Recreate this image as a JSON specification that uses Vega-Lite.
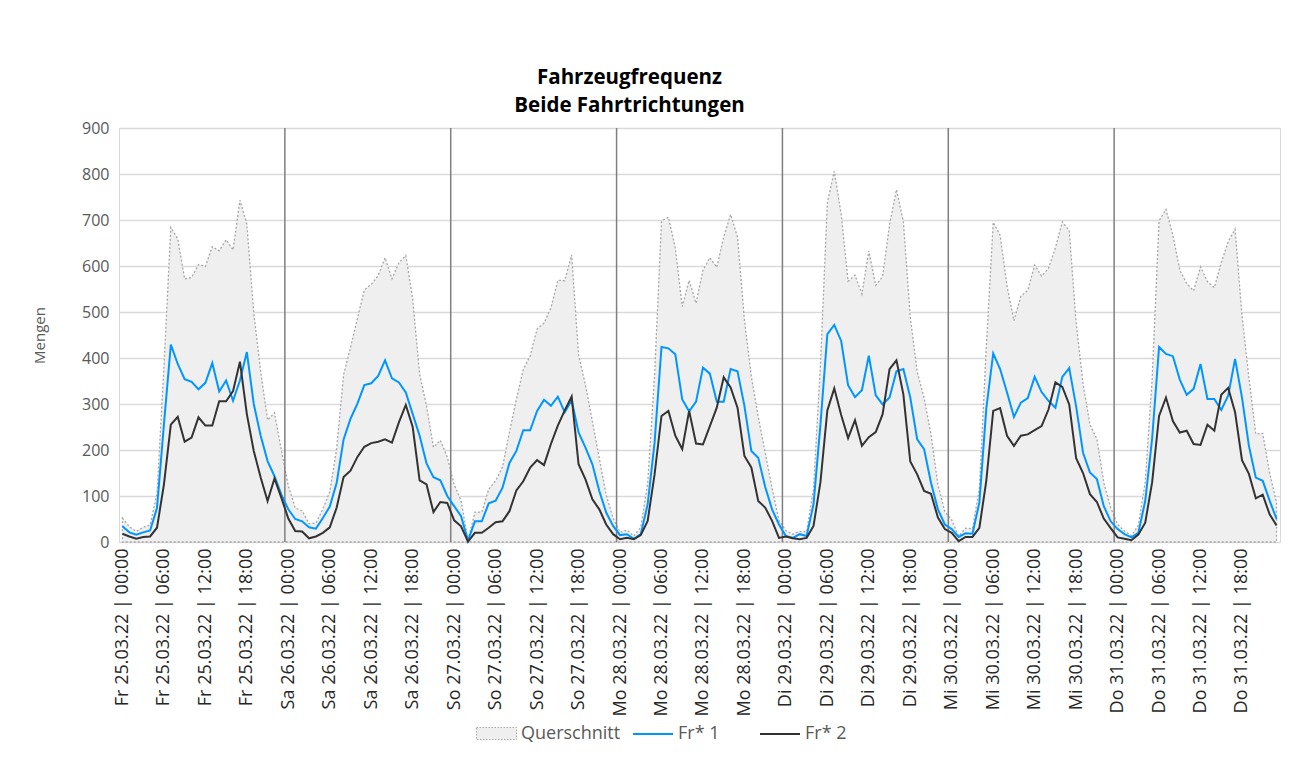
{
 "$schema": "https://vega.github.io/schema/vega-lite/v6.json",
 "width": 1161, "height": 414,
 "autosize": {"type": "none"},
 "padding": {"left": 119, "top": 128, "right": 19, "bottom": 221},
 "background": "white",
 "title": {"text": ["Fahrzeugfrequenz", "Beide Fahrtrichtungen"], "font": "Open Sans", "fontSize": 20.5, "fontWeight": "bold", "color": "#000000", "lineHeight": 28, "anchor": "middle", "dx": -70, "offset": 4},
 "config": {"view": {"stroke": "#D9D9D9"}, "font": "Open Sans",
   "legend": {"title": null, "orient": "none", "direction": "horizontal",
              "symbolSize": 1600, "labelFontSize": 18, "labelColor": "#595959", "labelOffset": 4, "columnPadding": 14}},
 "data": {"values": [
{"h":0,"q":52,"fr1":34,"fr2":18},{"h":1,"q":33,"fr1":21,"fr2":12},{"h":2,"q":23,"fr1":16,"fr2":7},{"h":3,"q":32,"fr1":21,"fr2":11},{"h":4,"q":37,"fr1":25,"fr2":12},{"h":5,"q":105,"fr1":74,"fr2":31},{"h":6,"q":380,"fr1":255,"fr2":125},{"h":7,"q":684,"fr1":429,"fr2":255},{"h":8,"q":659,"fr1":387,"fr2":272},{"h":9,"q":572,"fr1":354,"fr2":218},{"h":10,"q":575,"fr1":348,"fr2":227},{"h":11,"q":603,"fr1":332,"fr2":271},{"h":12,"q":599,"fr1":346,"fr2":253},{"h":13,"q":642,"fr1":389,"fr2":253},{"h":14,"q":633,"fr1":327,"fr2":306},{"h":15,"q":657,"fr1":351,"fr2":306},{"h":16,"q":635,"fr1":307,"fr2":328},{"h":17,"q":743,"fr1":351,"fr2":392},{"h":18,"q":691,"fr1":413,"fr2":278},{"h":19,"q":498,"fr1":300,"fr2":198},{"h":20,"q":371,"fr1":231,"fr2":140},{"h":21,"q":265,"fr1":176,"fr2":89},{"h":22,"q":281,"fr1":143,"fr2":138},{"h":23,"q":199,"fr1":103,"fr2":96},
{"h":24,"q":122,"fr1":71,"fr2":51},{"h":25,"q":74,"fr1":50,"fr2":24},{"h":26,"q":68,"fr1":45,"fr2":23},{"h":27,"q":40,"fr1":32,"fr2":8},{"h":28,"q":41,"fr1":29,"fr2":12},{"h":29,"q":72,"fr1":52,"fr2":20},{"h":30,"q":109,"fr1":77,"fr2":32},{"h":31,"q":204,"fr1":129,"fr2":75},{"h":32,"q":364,"fr1":223,"fr2":141},{"h":33,"q":423,"fr1":268,"fr2":155},{"h":34,"q":486,"fr1":301,"fr2":185},{"h":35,"q":548,"fr1":341,"fr2":207},{"h":36,"q":560,"fr1":345,"fr2":215},{"h":37,"q":579,"fr1":361,"fr2":218},{"h":38,"q":618,"fr1":395,"fr2":223},{"h":39,"q":572,"fr1":356,"fr2":216},{"h":40,"q":607,"fr1":347,"fr2":260},{"h":41,"q":623,"fr1":325,"fr2":298},{"h":42,"q":528,"fr1":278,"fr2":250},{"h":43,"q":365,"fr1":231,"fr2":134},{"h":44,"q":296,"fr1":171,"fr2":125},{"h":45,"q":206,"fr1":141,"fr2":65},{"h":46,"q":221,"fr1":134,"fr2":87},{"h":47,"q":185,"fr1":100,"fr2":85},
{"h":48,"q":125,"fr1":78,"fr2":47},{"h":49,"q":90,"fr1":56,"fr2":34},{"h":50,"q":4,"fr1":3,"fr2":1},{"h":51,"q":65,"fr1":45,"fr2":20},{"h":52,"q":65,"fr1":45,"fr2":20},{"h":53,"q":115,"fr1":84,"fr2":31},{"h":54,"q":133,"fr1":90,"fr2":43},{"h":55,"q":163,"fr1":118,"fr2":45},{"h":56,"q":239,"fr1":172,"fr2":67},{"h":57,"q":310,"fr1":198,"fr2":112},{"h":58,"q":375,"fr1":243,"fr2":132},{"h":59,"q":405,"fr1":243,"fr2":162},{"h":60,"q":463,"fr1":285,"fr2":178},{"h":61,"q":476,"fr1":309,"fr2":167},{"h":62,"q":509,"fr1":296,"fr2":213},{"h":63,"q":569,"fr1":316,"fr2":253},{"h":64,"q":568,"fr1":282,"fr2":286},{"h":65,"q":624,"fr1":308,"fr2":316},{"h":66,"q":407,"fr1":238,"fr2":169},{"h":67,"q":341,"fr1":205,"fr2":136},{"h":68,"q":262,"fr1":169,"fr2":93},{"h":69,"q":182,"fr1":111,"fr2":71},{"h":70,"q":102,"fr1":64,"fr2":38},{"h":71,"q":52,"fr1":35,"fr2":17},
{"h":72,"q":21,"fr1":15,"fr2":6},{"h":73,"q":26,"fr1":17,"fr2":9},{"h":74,"q":13,"fr1":7,"fr2":6},{"h":75,"q":32,"fr1":17,"fr2":15},{"h":76,"q":128,"fr1":82,"fr2":46},{"h":77,"q":363,"fr1":216,"fr2":147},{"h":78,"q":698,"fr1":424,"fr2":274},{"h":79,"q":706,"fr1":421,"fr2":285},{"h":80,"q":639,"fr1":408,"fr2":231},{"h":81,"q":512,"fr1":310,"fr2":202},{"h":82,"q":569,"fr1":284,"fr2":285},{"h":83,"q":519,"fr1":305,"fr2":214},{"h":84,"q":591,"fr1":379,"fr2":212},{"h":85,"q":618,"fr1":366,"fr2":252},{"h":86,"q":597,"fr1":305,"fr2":292},{"h":87,"q":663,"fr1":305,"fr2":358},{"h":88,"q":712,"fr1":376,"fr2":336},{"h":89,"q":663,"fr1":371,"fr2":292},{"h":90,"q":483,"fr1":296,"fr2":187},{"h":91,"q":360,"fr1":198,"fr2":162},{"h":92,"q":272,"fr1":183,"fr2":89},{"h":93,"q":195,"fr1":120,"fr2":75},{"h":94,"q":117,"fr1":71,"fr2":46},{"h":95,"q":47,"fr1":38,"fr2":9},
{"h":96,"q":25,"fr1":13,"fr2":12},{"h":97,"q":17,"fr1":9,"fr2":8},{"h":98,"q":23,"fr1":17,"fr2":6},{"h":99,"q":22,"fr1":13,"fr2":9},{"h":100,"q":117,"fr1":82,"fr2":35},{"h":101,"q":385,"fr1":255,"fr2":130},{"h":102,"q":738,"fr1":452,"fr2":286},{"h":103,"q":806,"fr1":472,"fr2":334},{"h":104,"q":713,"fr1":437,"fr2":276},{"h":105,"q":567,"fr1":341,"fr2":226},{"h":106,"q":580,"fr1":315,"fr2":265},{"h":107,"q":539,"fr1":330,"fr2":209},{"h":108,"q":633,"fr1":405,"fr2":228},{"h":109,"q":558,"fr1":319,"fr2":239},{"h":110,"q":577,"fr1":299,"fr2":278},{"h":111,"q":690,"fr1":314,"fr2":376},{"h":112,"q":766,"fr1":371,"fr2":395},{"h":113,"q":697,"fr1":376,"fr2":321},{"h":114,"q":489,"fr1":314,"fr2":175},{"h":115,"q":370,"fr1":223,"fr2":147},{"h":116,"q":313,"fr1":202,"fr2":111},{"h":117,"q":234,"fr1":129,"fr2":105},{"h":118,"q":124,"fr1":71,"fr2":53},{"h":119,"q":66,"fr1":38,"fr2":28},
{"h":120,"q":48,"fr1":28,"fr2":20},{"h":121,"q":13,"fr1":11,"fr2":2},{"h":122,"q":30,"fr1":19,"fr2":11},{"h":123,"q":29,"fr1":18,"fr2":11},{"h":124,"q":117,"fr1":86,"fr2":31},{"h":125,"q":423,"fr1":290,"fr2":133},{"h":126,"q":695,"fr1":410,"fr2":285},{"h":127,"q":667,"fr1":376,"fr2":291},{"h":128,"q":556,"fr1":325,"fr2":231},{"h":129,"q":481,"fr1":272,"fr2":209},{"h":130,"q":534,"fr1":303,"fr2":231},{"h":131,"q":547,"fr1":313,"fr2":234},{"h":132,"q":602,"fr1":359,"fr2":243},{"h":133,"q":578,"fr1":326,"fr2":252},{"h":134,"q":595,"fr1":307,"fr2":288},{"h":135,"q":639,"fr1":292,"fr2":347},{"h":136,"q":696,"fr1":359,"fr2":337},{"h":137,"q":677,"fr1":378,"fr2":299},{"h":138,"q":477,"fr1":295,"fr2":182},{"h":139,"q":344,"fr1":194,"fr2":150},{"h":140,"q":255,"fr1":151,"fr2":104},{"h":141,"q":224,"fr1":137,"fr2":87},{"h":142,"q":129,"fr1":78,"fr2":51},{"h":143,"q":75,"fr1":45,"fr2":30},
{"h":144,"q":38,"fr1":28,"fr2":10},{"h":145,"q":24,"fr1":17,"fr2":7},{"h":146,"q":14,"fr1":10,"fr2":4},{"h":147,"q":36,"fr1":20,"fr2":16},{"h":148,"q":131,"fr1":89,"fr2":42},{"h":149,"q":355,"fr1":225,"fr2":130},{"h":150,"q":698,"fr1":424,"fr2":274},{"h":151,"q":723,"fr1":409,"fr2":314},{"h":152,"q":667,"fr1":404,"fr2":263},{"h":153,"q":591,"fr1":353,"fr2":238},{"h":154,"q":562,"fr1":320,"fr2":242},{"h":155,"q":546,"fr1":333,"fr2":213},{"h":156,"q":598,"fr1":387,"fr2":211},{"h":157,"q":566,"fr1":311,"fr2":255},{"h":158,"q":553,"fr1":311,"fr2":242},{"h":159,"q":607,"fr1":287,"fr2":320},{"h":160,"q":653,"fr1":318,"fr2":335},{"h":161,"q":680,"fr1":398,"fr2":282},{"h":162,"q":492,"fr1":314,"fr2":178},{"h":163,"q":357,"fr1":209,"fr2":148},{"h":164,"q":235,"fr1":140,"fr2":95},{"h":165,"q":236,"fr1":133,"fr2":103},{"h":166,"q":150,"fr1":90,"fr2":60},{"h":167,"q":86,"fr1":50,"fr2":36}
 ]},
 "encoding": {
  "x": {"field": "h", "type": "quantitative",
        "scale": {"domain": [-0.5, 167.5], "nice": false, "zero": false},
        "axis": {"values": [0,6,12,18,24,30,36,42,48,54,60,66,72,78,84,90,96,102,108,114,120,126,132,138,144,150,156,162],
                 "labelAngle": -90, "labelPadding": 6, "labelFontSize": 18, "labelColor": "#262626", "labelFont": "Open Sans",
                 "labelOverlap": false, "labelFlush": false, "labelBound": false,
                 "labelExpr": "['Fr 25','Sa 26','So 27','Mo 28','Di 29','Mi 30','Do 31'][floor(datum.value/24)] + '.03.22 | ' + (datum.value % 24 < 10 ? '0' : '') + (datum.value % 24) + ':00'",
                 "grid": false, "domain": false, "ticks": false, "title": null}}
 },
 "layer": [
  {"mark": {"type": "area", "stroke": "#A6A6A6", "strokeDash": [2, 2], "strokeWidth": 1.3},
   "encoding": {
     "y": {"field": "q", "type": "quantitative", "title": "Mengen",
           "scale": {"domain": [0, 900], "nice": false},
           "axis": {"values": [0,100,200,300,400,500,600,700,800,900], "grid": true, "gridColor": "#D9D9D9", "gridWidth": 1.3,
                    "domain": false, "ticks": false, "labelFontSize": 16, "labelColor": "#595959", "labelPadding": 10,
                    "titleFontSize": 15, "titleFontWeight": "normal", "titleColor": "#595959", "titlePadding": 34}},
     "fill": {"datum": "Querschnitt",
              "scale": {"domain": ["Querschnitt"], "range": ["#EFEFEF"]},
              "legend": {"legendX": 357, "legendY": 585, "symbolType": "M-1,-0.3H1V0.3H-1Z",
                         "symbolStrokeColor": "#A6A6A6", "symbolDash": [1.5, 1.5], "symbolStrokeWidth": 1}}
   }},
  {"data": {"values": [{"h": 23.5}, {"h": 47.5}, {"h": 71.5}, {"h": 95.5}, {"h": 119.5}, {"h": 143.5}]},
   "mark": {"type": "rule", "color": "#7F7F7F", "strokeWidth": 1.5},
   "encoding": {"x": {"field": "h", "type": "quantitative"}}},
  {"mark": {"type": "line", "strokeWidth": 2},
   "encoding": {"y": {"field": "fr1", "type": "quantitative", "title": "Mengen"},
                "stroke": {"datum": "Fr* 1",
                           "scale": {"domain": ["Fr* 1", "Fr* 2"], "range": ["#0096FF", "#333333"]},
                           "legend": {"legendX": 513, "legendY": 585, "symbolType": "stroke", "symbolStrokeWidth": 2, "columnPadding": 36}}}},
  {"mark": {"type": "line", "strokeWidth": 2},
   "encoding": {"y": {"field": "fr2", "type": "quantitative", "title": "Mengen"}, "stroke": {"datum": "Fr* 2"}}}
 ]
}
